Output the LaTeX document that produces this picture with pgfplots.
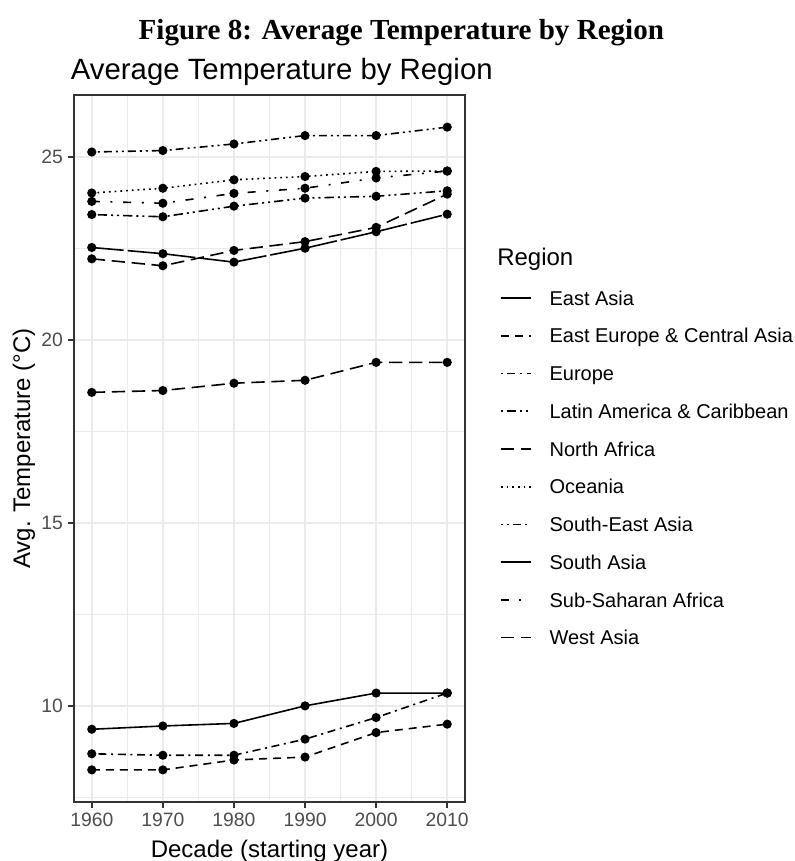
\documentclass[border=0pt]{standalone}
\usepackage{fontspec}
\setmainfont{Liberation Sans}
\newfontfamily\capfont{Liberation Serif}
\usepackage{pgfplots}
\pgfplotsset{compat=1.18}

\definecolor{gridgray}{HTML}{EBEBEB}
\definecolor{bordergray}{HTML}{333333}
\definecolor{ticklab}{HTML}{4D4D4D}

% line types, one per region
\pgfplotsset{
  eas/.style={solid},
  eeca/.style={dash pattern=on 6pt off 4.5pt},
  eur/.style={dash pattern=on 1.5pt off 3.5pt on 6pt off 3.5pt},
  lac/.style={dash pattern=on 1.5pt off 3pt on 7pt off 3pt on 1.5pt off 3pt},
  naf/.style={dash pattern=on 10pt off 5pt},
  oce/.style={dash pattern=on 1.3pt off 3pt},
  sea/.style={dash pattern=on 1.5pt off 3pt on 1.5pt off 3pt on 6pt off 3pt},
  sas/.style={dash pattern=on 24pt off 3pt},
  ssa/.style={dash pattern=on 6pt off 8pt on 1.5pt off 8pt},
  was/.style={dash pattern=on 10pt off 5pt},
  region/.style={black, line width=1.2pt, mark=*, mark size=2.8pt,
    mark options={solid, fill=black}},
}

\begin{document}
\begin{tikzpicture}
\useasboundingbox (0pt,0pt) rectangle (596.25pt,-645.75pt);

\node[anchor=base, inner sep=0pt, font=\capfont\bfseries\fontsize{21.8}{26}\selectfont]
  at (301pt,-29.5pt) {Figure 8: Average Temperature by Region};
\node[anchor=base west, inner sep=0pt, font=\fontsize{22}{26}\selectfont]
  at (53pt,-59.5pt) {Average Temperature by Region};
\node[anchor=base west, inner sep=0pt, font=\fontsize{18}{22}\selectfont]
  at (372.75pt,-198.75pt) {Region};

\begin{axis}[
  at={(55.5pt,-71.25pt)}, anchor=north west,
  scale only axis, width=293.25pt, height=530.25pt,
  xmin=1957.5, xmax=2012.5, ymin=7.3715, ymax=26.6985,
  xtick={1960,1970,1980,1990,2000,2010}, ytick={10,15,20,25},
  minor xtick={1965,1975,1985,1995,2005},
  minor ytick={7.5,12.5,17.5,22.5},
  grid=both,
  major grid style={gridgray, line width=1.1pt},
  minor grid style={gridgray, line width=0.55pt},
  axis line style={bordergray, line width=1.1pt},
  tick style={bordergray, line width=1.1pt},
  major tick length=4.6pt, minor tick length=0pt,
  tick align=outside, xtick pos=bottom, ytick pos=left,
  /pgf/number format/assume math mode=true,
  /pgf/number format/1000 sep={},
  tick label style={font=\fontsize{14.5}{17}\selectfont, text=ticklab, inner sep=3.6pt},
  xlabel={Decade (starting year)},
  ylabel={Avg. Temperature (°C)},
  label style={font=\fontsize{18}{22}\selectfont, inner sep=0pt},
  xlabel style={at={(axis description cs:0.5,-0.0778)}, anchor=base},
  ylabel style={at={(axis description cs:-0.128,0.5)}, anchor=center},
  legend cell align=left,
  legend image code/.code={\draw[#1] (0pt,0pt) -- (22.5pt,0pt);},
  legend style={at={(axis description cs:1.0895,0.726)}, anchor=north west,
    draw=none, fill=none, inner sep=0pt, outer sep=0pt,
    row sep=14.3pt, column sep=13.5pt,
    font=\fontsize{15}{18}\selectfont,
    nodes={inner sep=0pt, text height=12.4pt, text depth=1.6pt}},
]
\addplot[region, eas] coordinates {(1960,9.36) (1970,9.45) (1980,9.52) (1990,10.00) (2000,10.35) (2010,10.35)};
\addlegendentry{East Asia}
\addplot[region, eeca] coordinates {(1960,8.25) (1970,8.25) (1980,8.52) (1990,8.60) (2000,9.27) (2010,9.50)};
\addlegendentry{East Europe \& Central Asia}
\addplot[region, eur] coordinates {(1960,8.69) (1970,8.65) (1980,8.65) (1990,9.09) (2000,9.68) (2010,10.35)};
\addlegendentry{Europe}
\addplot[region, lac] coordinates {(1960,23.43) (1970,23.37) (1980,23.66) (1990,23.88) (2000,23.93) (2010,24.08)};
\addlegendentry{Latin America \& Caribbean}
\addplot[region, naf] coordinates {(1960,22.22) (1970,22.03) (1980,22.45) (1990,22.69) (2000,23.08) (2010,23.99)};
\addlegendentry{North Africa}
\addplot[region, oce] coordinates {(1960,24.02) (1970,24.15) (1980,24.38) (1990,24.47) (2000,24.61) (2010,24.62)};
\addlegendentry{Oceania}
\addplot[region, sea] coordinates {(1960,25.14) (1970,25.18) (1980,25.36) (1990,25.59) (2000,25.59) (2010,25.82)};
\addlegendentry{South-East Asia}
\addplot[region, sas] coordinates {(1960,22.53) (1970,22.36) (1980,22.13) (1990,22.51) (2000,22.96) (2010,23.44)};
\addlegendentry{South Asia}
\addplot[region, ssa] coordinates {(1960,23.79) (1970,23.74) (1980,24.01) (1990,24.15) (2000,24.43) (2010,24.62)};
\addlegendentry{Sub-Saharan Africa}
\addplot[region, was] coordinates {(1960,18.57) (1970,18.62) (1980,18.82) (1990,18.90) (2000,19.39) (2010,19.39)};
\addlegendentry{West Asia}
\end{axis}
\end{tikzpicture}
\end{document}
